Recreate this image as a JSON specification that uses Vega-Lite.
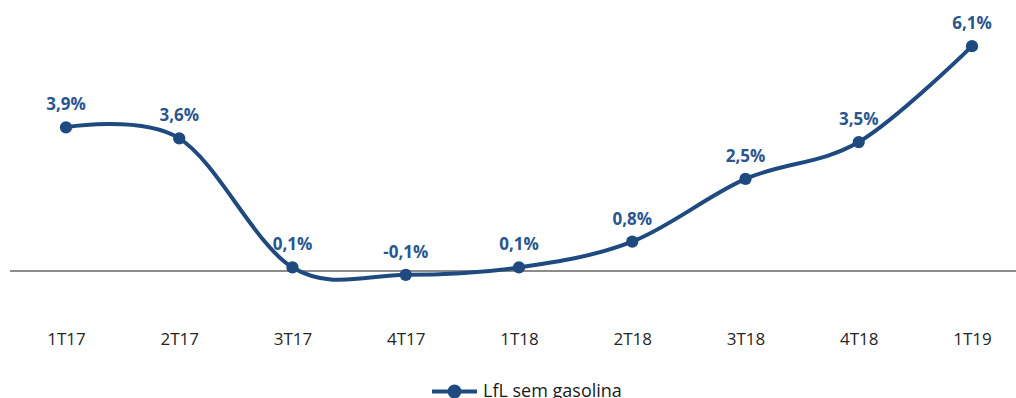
{
  "$schema": "https://vega.github.io/schema/vega-lite/v6.json",
  "width": 1006,
  "height": 295,
  "autosize": {"type": "none"},
  "padding": {"left": 10, "top": 13, "right": 0, "bottom": 90},
  "background": "white",
  "data": {
    "values": [
      {"periodo": "1T17", "valor": 0.039},
      {"periodo": "2T17", "valor": 0.036},
      {"periodo": "3T17", "valor": 0.001},
      {"periodo": "4T17", "valor": -0.001},
      {"periodo": "1T18", "valor": 0.001},
      {"periodo": "2T18", "valor": 0.008},
      {"periodo": "3T18", "valor": 0.025},
      {"periodo": "4T18", "valor": 0.035},
      {"periodo": "1T19", "valor": 0.061}
    ]
  },
  "encoding": {
    "x": {
      "field": "periodo",
      "type": "ordinal",
      "sort": null,
      "scale": {"type": "point", "range": [56, 962], "padding": 0},
      "axis": {
        "title": null,
        "domain": false,
        "ticks": false,
        "grid": false,
        "labelAngle": 0,
        "labelPadding": 23,
        "labelFont": "Open Sans",
        "labelFontSize": 17,
        "labelColor": "#262626"
      }
    },
    "y": {
      "field": "valor",
      "type": "quantitative",
      "scale": {"domain": [-0.01, 0.07], "nice": false, "zero": false},
      "axis": null
    }
  },
  "layer": [
    {
      "mark": {"type": "rule", "color": "#8c8c8c", "strokeWidth": 1.5},
      "encoding": {"x": null, "y": {"datum": 0, "type": "quantitative"}}
    },
    {
      "mark": {"type": "line", "interpolate": "cardinal", "tension": 0, "strokeWidth": 4},
      "encoding": {
        "color": {
          "datum": "LfL sem gasolina",
          "type": "nominal",
          "scale": {"range": ["#1F4A80"]},
          "legend": {
            "title": null,
            "orient": "none",
            "legendX": 420,
            "legendY": 354,
            "padding": 0,
            "symbolType": "M -1 0 L 1 0 M 0.22 0 A 0.22 0.22 0 1 1 -0.22 0 A 0.22 0.22 0 1 1 0.22 0 Z",
            "symbolSize": 2025,
            "symbolStrokeWidth": 4,
            "symbolStrokeColor": "#1F4A80",
            "symbolFillColor": "#1F4A80",
            "labelFont": "Open Sans",
            "labelFontSize": 18,
            "labelColor": "#1a1a1a",
            "labelOffset": 4
          }
        }
      }
    },
    {
      "mark": {"type": "point", "filled": true, "opacity": 1, "size": 150, "color": "#1F4A80"}
    },
    {
      "mark": {
        "type": "text",
        "font": "Open Sans",
        "fontSize": 17,
        "fontWeight": "bold",
        "color": "#2A5690",
        "baseline": "alphabetic",
        "dy": -17
      },
      "encoding": {"text": {"field": "valor", "type": "quantitative", "format": ".1%"}}
    }
  ],
  "config": {
    "view": {"stroke": null},
    "locale": {
      "number": {"decimal": ",", "thousands": ".", "grouping": [3], "currency": ["", " €"], "minus": "-"}
    }
  }
}
